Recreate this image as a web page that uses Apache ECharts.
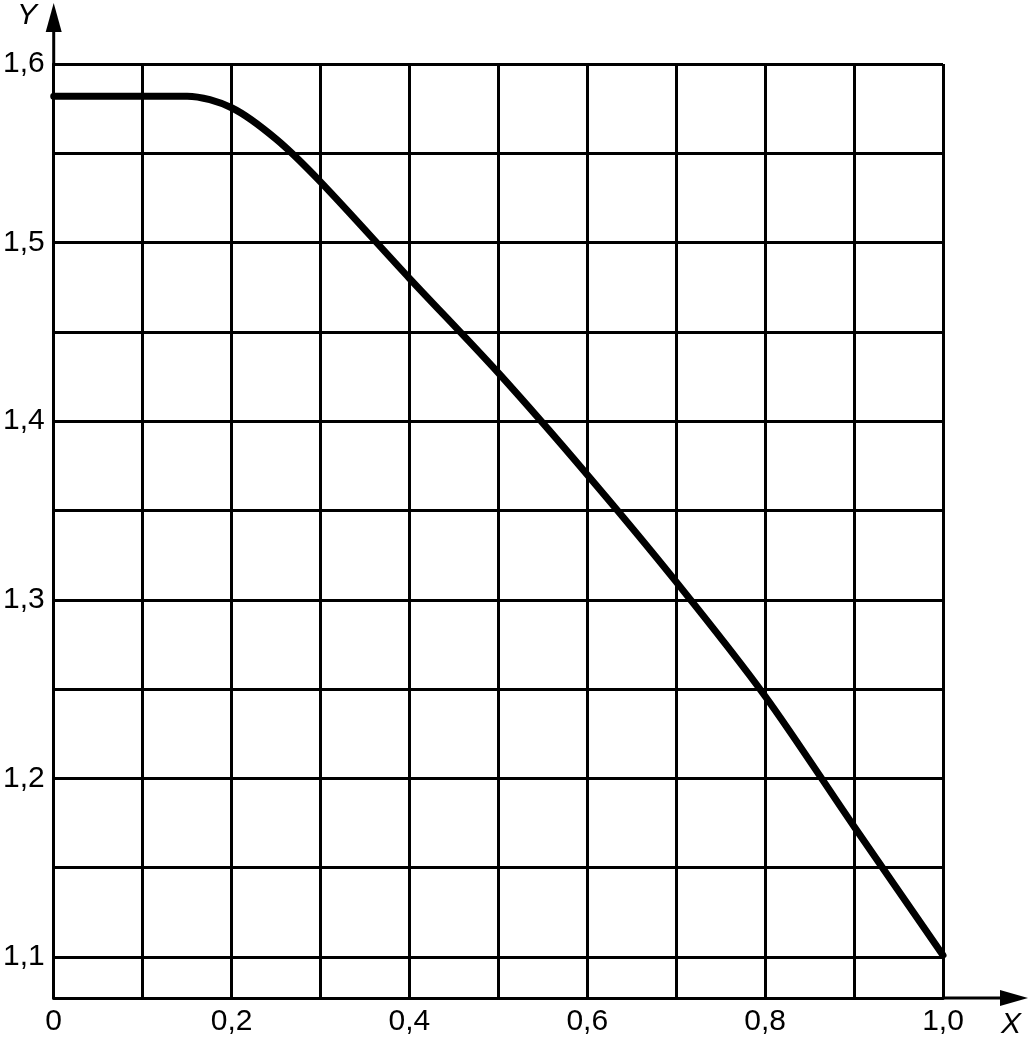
<!DOCTYPE html>
<html>
<head>
<meta charset="utf-8">
<script src="https://cdn.jsdelivr.net/npm/echarts@6/dist/echarts.min.js"></script>
<style>
html,body{margin:0;padding:0;background:#fff;}
#c{width:1029px;height:1044px;}
</style>
</head>
<body>
<div id="c"></div>
<script>
// Data
const curveX = [0, 0.1, 0.15, 0.2, 0.25, 0.3, 0.4, 0.5, 0.6, 0.7, 0.8, 0.9, 1.0];
const curveY = [1.582, 1.582, 1.582, 1.5755, 1.558, 1.534, 1.480, 1.427, 1.370, 1.310, 1.246, 1.173, 1.101];
const yGridValues = [1.1, 1.15, 1.2, 1.25, 1.3, 1.35, 1.4, 1.45, 1.5, 1.55, 1.6];
const yLabelValues = [1.1, 1.2, 1.3, 1.4, 1.5, 1.6];
const xLabelValues = [0, 0.2, 0.4, 0.6, 0.8, 1.0];
const xAxisName = 'X';
const yAxisName = 'Y';

const fmt = v => (Math.abs(v) < 1e-9 ? '0' : v.toFixed(1).replace('.', ','));
const FONT = 'Liberation Sans, Arial, sans-serif';

const chart = echarts.init(document.getElementById('c'), null, {renderer: 'canvas'});
const option = {
  animation: false,
  backgroundColor: '#fff',
  grid: {left: 53, right: 86, top: 64, bottom: 46, containLabel: false},
  xAxis: {
    type: 'value', min: 0, max: 1, interval: 0.1,
    axisLine: {show: true, lineStyle: {color: '#000', width: 3}},
    axisTick: {show: false},
    splitLine: {show: true, lineStyle: {color: '#000', width: 3}},
    axisLabel: {
      color: '#000', fontSize: 30, fontFamily: FONT, margin: 9,
      formatter: v => (xLabelValues.some(t => Math.abs(t - v) < 1e-6) ? fmt(v) : '')
    }
  },
  yAxis: {
    type: 'value', min: 1.077, max: 1.6,
    axisLine: {show: true, onZero: false, lineStyle: {color: '#000', width: 3}},
    axisTick: {show: false},
    splitLine: {show: false},
    axisLabel: {
      color: '#000', fontSize: 30, fontFamily: FONT, margin: 9,
      customValues: yLabelValues,
      formatter: v => fmt(v)
    }
  },
  series: [
    {
      type: 'line', data: [], z: 1, silent: true,
      markLine: {
        silent: true, symbol: ['none', 'none'], label: {show: false},
        lineStyle: {color: '#000', width: 3, type: 'solid'},
        emphasis: {disabled: true},
        data: yGridValues.map(v => ({yAxis: v}))
      }
    },
    {
      type: 'line', z: 5, silent: true, smooth: 0.3, showSymbol: false,
      lineStyle: {color: '#000', width: 7, cap: 'round', join: 'round'},
      data: curveX.map((x, i) => [x, curveY[i]])
    }
  ]
};
chart.setOption(option);

// Axis extensions with arrowheads and axis names (decoration)
const o = chart.convertToPixel({gridIndex: 0}, [0, 1.077]);
const xEnd = chart.convertToPixel({gridIndex: 0}, [1, 1.6]);
const ax = o[0], ay = o[1];
chart.setOption({
  graphic: [
    {type: 'line', shape: {x1: xEnd[0], y1: ay, x2: 1003, y2: ay}, style: {stroke: '#000', lineWidth: 3}, z: 10},
    {type: 'polygon', shape: {points: [[1000, ay - 8], [1028, ay], [1000, ay + 8]]}, style: {fill: '#000'}, z: 10},
    {type: 'line', shape: {x1: ax, y1: xEnd[1], x2: ax, y2: 30}, style: {stroke: '#000', lineWidth: 3}, z: 10},
    {type: 'polygon', shape: {points: [[ax - 8, 32], [ax, 3], [ax + 8, 32]]}, style: {fill: '#000'}, z: 10},
    {type: 'text', x: 27, y: 16, style: {text: yAxisName, fill: '#000', font: 'italic 30px ' + FONT, textAlign: 'center', textVerticalAlign: 'middle'}, z: 10},
    {type: 'text', x: 1011, y: 1025, style: {text: xAxisName, fill: '#000', font: 'italic 30px ' + FONT, textAlign: 'center', textVerticalAlign: 'middle'}, z: 10}
  ]
});
</script>
</body>
</html>
